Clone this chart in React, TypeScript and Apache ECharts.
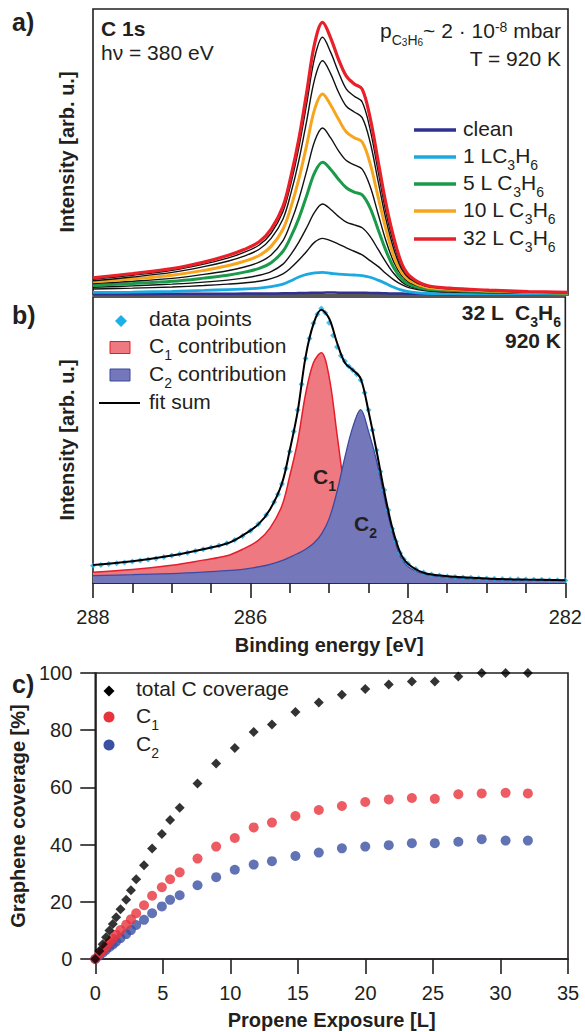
import React, { useEffect, useRef } from "react";
import * as echarts from "echarts";

const FONT = "Liberation Sans, Arial, Helvetica, sans-serif";
const INK = "#231f20";

// ---------------- Panel a: C 1s spectra ----------------
const energyGrid = [288, 287.5, 287, 286.6, 286.3, 286.1, 285.9, 285.75, 285.6, 285.5, 285.4, 285.3, 285.2, 285.1, 285.0, 284.9, 284.8, 284.7, 284.6, 284.5, 284.4, 284.3, 284.2, 284.1, 284.0, 283.8, 283.5, 283.0, 282.5, 282.0];

const specClean = [0.3, 0.3, 0.4, 0.4, 0.4, 0.5, 0.5, 0.5, 0.6, 0.6, 0.7, 0.7, 0.8, 0.8, 0.9, 0.8, 0.8, 0.8, 0.8, 0.7, 0.7, 0.6, 0.5, 0.5, 0.4, 0.4, 0.3, 0.3, 0.3, 0.3];
const spec1L = [0.9, 1.0, 1.3, 1.6, 1.9, 2.1, 2.4, 2.9, 3.8, 5.0, 6.3, 7.2, 7.7, 7.9, 7.6, 7.3, 7.1, 7.0, 6.8, 6.2, 5.2, 4.0, 2.7, 1.7, 1.1, 0.6, 0.5, 0.4, 0.4, 0.3];
const specStep3 = [2.1, 2.4, 2.8, 3.3, 3.8, 4.2, 4.8, 5.7, 7.4, 9.5, 12.2, 15.3, 18.5, 19.8, 19.0, 17.8, 16.5, 15.3, 14.0, 12.0, 10.0, 7.5, 5.3, 3.6, 2.5, 1.5, 1.0, 0.8, 0.6, 0.5];
const specStep4 = [2.7, 3.2, 3.8, 4.5, 5.2, 5.9, 6.9, 8.2, 10.8, 14.2, 18.5, 23.6, 29.0, 31.8, 30.0, 27.5, 25.5, 24.5, 23.5, 20.5, 16.0, 11.5, 7.5, 4.6, 3.0, 1.7, 1.3, 1.0, 0.8, 0.6];
const spec5L = [3.3, 4.0, 4.8, 5.9, 6.9, 7.9, 9.3, 11.3, 15.3, 20.4, 26.8, 34.8, 42.8, 46.4, 44.0, 40.5, 37.5, 36.0, 35.0, 30.5, 23.0, 15.5, 9.5, 5.6, 3.6, 2.1, 1.6, 1.2, 0.9, 0.6];
const specStep6 = [4.0, 4.8, 5.8, 7.2, 8.5, 9.7, 11.5, 14.0, 19.0, 25.4, 33.5, 43.5, 53.8, 58.4, 55.0, 50.5, 47.0, 45.5, 44.0, 38.0, 28.5, 19.0, 11.5, 6.8, 4.3, 2.5, 1.8, 1.3, 0.9, 0.7];
const spec10L = [4.6, 5.6, 6.9, 8.6, 10.2, 11.7, 13.8, 17.0, 23.0, 30.7, 40.5, 52.5, 65.0, 70.3, 66.5, 61.5, 57.0, 55.0, 53.5, 46.0, 34.5, 23.0, 13.5, 7.8, 5.0, 2.8, 2.0, 1.4, 1.0, 0.7];
const specStep8 = [5.0, 6.3, 7.9, 9.9, 11.8, 13.5, 16.0, 19.8, 26.6, 35.6, 47.0, 61.0, 75.5, 81.9, 77.5, 71.0, 66.0, 64.0, 62.0, 53.5, 40.0, 26.5, 16.0, 9.0, 5.7, 3.1, 2.2, 1.5, 1.0, 0.8];
const specStep9 = [5.5, 6.9, 8.6, 10.8, 12.9, 14.8, 17.5, 21.6, 29.2, 39.0, 51.5, 67.0, 83.0, 90.1, 85.0, 78.0, 72.0, 69.5, 67.5, 58.0, 43.5, 29.0, 17.8, 10.0, 6.2, 3.3, 2.3, 1.6, 1.1, 0.8];
const spec32L = [6.0, 7.5, 9.2, 11.5, 13.8, 15.8, 18.6, 23.0, 31.0, 41.5, 54.5, 71.0, 88.0, 95.3, 90.0, 82.5, 76.5, 73.8, 72.0, 62.0, 47.0, 32.0, 20.0, 11.0, 6.7, 3.5, 2.4, 1.7, 1.2, 0.9];

// ---------------- Panel b: peak fit at 32 L ----------------
const fitC1 = [3.8, 4.7, 6.2, 8.0, 9.5, 11.8, 14.9, 19.3, 27.0, 37.5, 49.5, 66.0, 77.0, 80.5, 72.0, 52.0, 32.0, 19.0, 10.0, 5.5, 3.0, 2.0, 1.4, 1.0, 0.8, 0.6, 0.4, 0.3, 0.2, 0.2];
const fitC2 = [2.6, 2.9, 3.3, 3.8, 4.3, 4.8, 5.6, 6.5, 7.8, 9.0, 10.3, 11.8, 13.8, 17.0, 22.5, 32.0, 44.0, 54.5, 60.6, 53.0, 43.0, 30.0, 18.0, 9.5, 5.8, 3.2, 2.0, 1.3, 1.0, 0.9];
const fitSum = [6.3, 7.6, 9.6, 11.8, 13.8, 16.6, 20.5, 25.8, 34.8, 46.5, 60.0, 79.0, 90.5, 95.5, 92.5, 84.0, 77.0, 74.5, 71.5, 60.0, 46.5, 32.0, 19.5, 10.8, 6.7, 3.6, 2.4, 1.6, 1.2, 1.0];

const pointEnergy = [288.0, 287.9, 287.8, 287.7, 287.6, 287.5, 287.4, 287.3, 287.2, 287.1, 287.0, 286.9, 286.8, 286.7, 286.6, 286.5, 286.4, 286.3, 286.2, 286.1, 286.0, 285.9, 285.8, 285.7, 285.65, 285.6, 285.55, 285.5, 285.45, 285.4, 285.35, 285.3, 285.25, 285.2, 285.15, 285.1, 285.05, 285.0, 284.95, 284.9, 284.85, 284.8, 284.75, 284.7, 284.65, 284.6, 284.55, 284.5, 284.45, 284.4, 284.35, 284.3, 284.25, 284.2, 284.15, 284.1, 284.05, 284.0, 283.9, 283.8, 283.7, 283.6, 283.5, 283.4, 283.3, 283.2, 283.1, 283.0, 282.9, 282.8, 282.7, 282.6, 282.5, 282.4, 282.3, 282.2, 282.1, 282.0];
const pointIntensity = [6.0, 6.3, 6.6, 6.9, 7.2, 7.5, 7.9, 8.2, 8.6, 9.1, 9.6, 10.1, 10.6, 11.2, 11.8, 12.4, 13.1, 13.9, 15.0, 16.4, 18.3, 20.6, 23.8, 28.3, 31.0, 34.6, 40.0, 46.0, 53.0, 60.5, 69.5, 78.5, 85.5, 90.8, 94.0, 96.0, 94.5, 91.0, 86.5, 82.5, 79.5, 77.5, 75.8, 74.5, 73.0, 71.0, 66.5, 60.5, 53.5, 46.5, 39.0, 32.5, 25.5, 19.0, 14.5, 10.5, 8.3, 6.8, 4.9, 3.7, 3.0, 2.6, 2.3, 2.1, 1.9, 1.8, 1.7, 1.6, 1.5, 1.4, 1.3, 1.3, 1.2, 1.1, 1.1, 1.0, 1.0, 0.9];

// ---------------- Panel c: coverage vs exposure ----------------
const exposure = [0, 0.3, 0.55, 0.8, 1.05, 1.3, 1.55, 1.87, 2.29, 2.64, 3.03, 3.61, 4.21, 4.93, 5.54, 6.25, 7.57, 8.95, 10.33, 11.73, 13.08, 14.82, 16.55, 18.26, 19.99, 21.73, 23.44, 25.14, 26.88, 28.61, 30.38, 32.03];
const totalCoverage = [0, 2.8, 5.2, 7.6, 10.0, 12.2, 14.6, 17.4, 20.7, 24.0, 27.9, 32.8, 38.6, 43.7, 48.6, 52.9, 61.4, 68.4, 73.8, 79.4, 82.0, 86.4, 89.7, 92.4, 94.4, 96.0, 97.0, 97.0, 98.8, 100, 100, 100];
const c1Coverage = [0, 1.6, 3.0, 4.4, 5.8, 7.1, 8.5, 10.1, 12.0, 13.9, 16.0, 18.8, 22.1, 25.1, 27.9, 30.3, 35.1, 39.3, 42.3, 46.0, 47.7, 50.0, 52.1, 53.5, 54.9, 55.8, 56.3, 56.0, 57.6, 57.9, 58.1, 57.9];
const c2Coverage = [0, 1.2, 2.2, 3.2, 4.2, 5.1, 6.1, 7.3, 8.7, 10.1, 11.9, 13.7, 16.0, 18.4, 20.7, 22.3, 25.8, 28.6, 31.2, 33.0, 34.2, 36.0, 37.2, 38.7, 39.3, 39.8, 40.5, 40.5, 41.0, 41.9, 41.4, 41.4];

const pairs = (xs: number[], ys: number[]) => xs.map((x, i) => [x, ys[i]]);

function richSet(size: number, weight: string) {
  const base = { fontFamily: FONT, fontWeight: weight, fill: INK, verticalAlign: "top" };
  return {
    n: { ...base, fontSize: size, lineHeight: 24 },
    s: { ...base, fontSize: 14, lineHeight: 10, padding: [13, 0, 0, 0] },
    ss: { ...base, fontSize: 10, lineHeight: 8, padding: [17, 0, 0, 0] },
    u: { ...base, fontSize: 14, lineHeight: 10, padding: [0, 0, 14, 0] },
  };
}

function label(text: string, x: number, y: number, size = 21, weight = "normal", align = "left") {
  return {
    type: "text",
    x,
    y,
    z: 100,
    style: {
      text,
      align,
      verticalAlign: "middle",
      fill: INK,
      fontFamily: FONT,
      fontSize: size,
      fontWeight: weight,
      rich: richSet(size, weight),
    },
  };
}

const hline = (x1: number, x2: number, y: number, color: string, w: number) => ({
  type: "line",
  z: 100,
  shape: { x1, y1: y, x2, y2: y },
  style: { stroke: color, lineWidth: w },
});

const diamond = (cx: number, cy: number, h: number, color: string) => ({
  type: "polygon",
  z: 100,
  shape: { points: [[cx, cy - h], [cx + h, cy], [cx, cy + h], [cx - h, cy]] },
  style: { fill: color },
});

const COLORS = {
  clean: "#2e3192",
  l1: "#1ba9e1",
  l5: "#1b9a4a",
  l10: "#f7a51c",
  l32: "#e8202a",
  c1Fill: "#ef7980",
  c1Line: "#e61e2a",
  c2Fill: "#7477ba",
  c2Line: "#3b4aa0",
  points: "#1cb0e8",
  red: "#e8333c",
  blue: "#3b50a3",
};

export default function App() {
  const ref = useRef<HTMLDivElement>(null);

  useEffect(() => {
    if (!ref.current) return;
    const chart = echarts.init(ref.current, null, { renderer: "svg" });

    const aLines = [
      { name: "clean", data: specClean, color: COLORS.clean, w: 2.5 },
      { name: "1 L C3H6", data: spec1L, color: COLORS.l1, w: 2.8 },
      { name: "step 3", data: specStep3, color: "#111", w: 1.4 },
      { name: "step 4", data: specStep4, color: "#111", w: 1.4 },
      { name: "5 L C3H6", data: spec5L, color: COLORS.l5, w: 3 },
      { name: "step 6", data: specStep6, color: "#111", w: 1.4 },
      { name: "10 L C3H6", data: spec10L, color: COLORS.l10, w: 3 },
      { name: "step 8", data: specStep8, color: "#111", w: 1.4 },
      { name: "step 9", data: specStep9, color: "#111", w: 1.4 },
      { name: "32 L C3H6", data: spec32L, color: COLORS.l32, w: 3.2 },
    ];

    const axisText = { fontSize: 20, color: INK, fontFamily: FONT };
    const nameText = { fontSize: 20, fontWeight: "bold", color: INK, fontFamily: FONT };
    const ink = { color: INK, width: 1.6 };
    const gridBox = { show: true, borderColor: INK, borderWidth: 1.6, backgroundColor: "transparent" };

    const option: any = {
      animation: false,
      backgroundColor: "#ffffff",
      textStyle: { fontFamily: FONT },
      grid: [
        { ...gridBox, left: 93, top: 9, width: 475, height: 286 },
        { ...gridBox, left: 93, top: 297, width: 475, height: 286 },
        { ...gridBox, left: 93, top: 673, width: 475, height: 286 },
      ],
      xAxis: [
        { gridIndex: 0, type: "value", min: 282, max: 288, inverse: true, show: false },
        {
          gridIndex: 1,
          type: "value",
          min: 282,
          max: 288,
          interval: 2,
          inverse: true,
          axisLine: { show: true, lineStyle: ink },
          axisTick: { show: true, length: 15, lineStyle: ink },
          minorTick: { show: true, splitNumber: 4, length: 10, lineStyle: ink },
          splitLine: { show: false },
          axisLabel: { ...axisText, margin: 24 },
          name: "Binding energy [eV]",
          nameLocation: "middle",
          nameGap: 52,
          nameTextStyle: nameText,
        },
        {
          gridIndex: 2,
          type: "value",
          min: 0,
          max: 35,
          interval: 5,
          axisLine: { show: true, lineStyle: ink },
          axisTick: { show: true, length: 15, lineStyle: ink },
          splitLine: { show: false },
          axisLabel: { ...axisText, margin: 24 },
          name: "Propene Exposure [L]",
          nameLocation: "middle",
          nameGap: 51,
          nameTextStyle: nameText,
        },
      ],
      yAxis: [
        {
          gridIndex: 0,
          type: "value",
          min: 0,
          max: 100,
          axisLine: { show: false },
          axisTick: { show: false },
          axisLabel: { show: false },
          splitLine: { show: false },
          name: "Intensity [arb. u.]",
          nameLocation: "middle",
          nameGap: 16,
          nameTextStyle: nameText,
        },
        {
          gridIndex: 1,
          type: "value",
          min: 0,
          max: 100,
          axisLine: { show: false },
          axisTick: { show: false },
          axisLabel: { show: false },
          splitLine: { show: false },
          name: "Intensity [arb. u.]",
          nameLocation: "middle",
          nameGap: 16,
          nameTextStyle: nameText,
        },
        {
          gridIndex: 2,
          type: "value",
          min: 0,
          max: 100,
          interval: 20,
          axisLine: { show: true, lineStyle: ink },
          axisTick: { show: true, length: 15, lineStyle: ink },
          splitLine: { show: false },
          axisLabel: { ...axisText, margin: 23 },
          name: "Graphene coverage [%]",
          nameLocation: "middle",
          nameGap: 63,
          nameTextStyle: nameText,
        },
      ],
      series: [
        ...aLines.map((s, i) => ({
          name: s.name,
          type: "line",
          xAxisIndex: 0,
          yAxisIndex: 0,
          z: 2 + i * 0.1,
          data: pairs(energyGrid, s.data),
          showSymbol: false,
          symbol: "none",
          smooth: 0.35,
          lineStyle: { color: s.color, width: s.w },
          itemStyle: { color: s.color },
        })),
        {
          name: "C1 contribution",
          type: "line",
          xAxisIndex: 1,
          yAxisIndex: 1,
          z: 2,
          data: pairs(energyGrid, fitC1),
          symbol: "none",
          smooth: 0.35,
          lineStyle: { color: COLORS.c1Line, width: 1.5 },
          areaStyle: { color: COLORS.c1Fill, opacity: 1 },
        },
        {
          name: "C2 contribution",
          type: "line",
          xAxisIndex: 1,
          yAxisIndex: 1,
          z: 3,
          data: pairs(energyGrid, fitC2),
          symbol: "none",
          smooth: 0.35,
          lineStyle: { color: COLORS.c2Line, width: 1.3 },
          areaStyle: { color: COLORS.c2Fill, opacity: 1 },
        },
        {
          name: "data points",
          type: "scatter",
          xAxisIndex: 1,
          yAxisIndex: 1,
          z: 4,
          data: pairs(pointEnergy, pointIntensity),
          symbol: "diamond",
          symbolSize: 6,
          itemStyle: { color: COLORS.points },
        },
        {
          name: "fit sum",
          type: "line",
          xAxisIndex: 1,
          yAxisIndex: 1,
          z: 5,
          data: pairs(energyGrid, fitSum),
          symbol: "none",
          smooth: 0.35,
          lineStyle: { color: "#000", width: 2 },
        },
        {
          name: "C2",
          type: "scatter",
          xAxisIndex: 2,
          yAxisIndex: 2,
          z: 3,
          data: pairs(exposure, c2Coverage),
          symbol: "circle",
          symbolSize: 10,
          itemStyle: { color: COLORS.blue },
        },
        {
          name: "C1",
          type: "scatter",
          xAxisIndex: 2,
          yAxisIndex: 2,
          z: 4,
          data: pairs(exposure, c1Coverage),
          symbol: "circle",
          symbolSize: 10,
          itemStyle: { color: COLORS.red },
        },
        {
          name: "total C coverage",
          type: "scatter",
          xAxisIndex: 2,
          yAxisIndex: 2,
          z: 5,
          data: pairs(exposure, totalCoverage),
          symbol: "diamond",
          symbolSize: 10,
          itemStyle: { color: "#000" },
        },
      ],
      graphic: [
        // panel letters
        label("{n|a)}", 12, 21, 25, "bold"),
        label("{n|b)}", 12, 314, 25, "bold"),
        label("{n|c)}", 12, 683, 25, "bold"),
        // panel a annotations
        label("{n|C 1s}", 101, 30, 21, "bold"),
        label("{n|hν = 380 eV}", 101, 54, 21),
        label("{n|p}{s|C}{ss|3}{s|H}{ss|6}{n|~ 2 · 10}{u|-8}{n| mbar}", 561, 32, 21, "normal", "right"),
        label("{n|T = 920 K}", 561, 60, 21, "normal", "right"),
        // panel a legend
        hline(414, 456, 130, COLORS.clean, 3.5),
        hline(414, 456, 157, COLORS.l1, 3.5),
        hline(414, 456, 184, COLORS.l5, 3.5),
        hline(414, 456, 211, COLORS.l10, 3.5),
        hline(414, 456, 239, COLORS.l32, 3.5),
        label("{n|clean}", 463, 130),
        label("{n|1 LC}{s|3}{n|H}{s|6}", 463, 157),
        label("{n|5 L C}{s|3}{n|H}{s|6}", 463, 184),
        label("{n|10 L C}{s|3}{n|H}{s|6}", 463, 211),
        label("{n|32 L C}{s|3}{n|H}{s|6}", 463, 239),
        // panel b annotations
        label("{n|32 L  C}{s|3}{n|H}{s|6}", 561, 314, 21, "bold", "right"),
        label("{n|920 K}", 561, 342, 21, "bold", "right"),
        label("{n|C}{s|1}", 313, 478, 21, "bold"),
        label("{n|C}{s|2}", 354, 525, 21, "bold"),
        // panel b legend
        diamond(121, 321, 6, COLORS.points),
        {
          type: "rect",
          z: 100,
          shape: { x: 110, y: 341.5, width: 20, height: 12 },
          style: { fill: COLORS.c1Fill, stroke: COLORS.c1Line, lineWidth: 1 },
        },
        {
          type: "rect",
          z: 100,
          shape: { x: 110, y: 369, width: 20, height: 12 },
          style: { fill: COLORS.c2Fill, stroke: COLORS.c2Line, lineWidth: 1 },
        },
        hline(99, 140, 403, "#000", 2),
        label("{n|data points}", 149, 320),
        label("{n|C}{s|1}{n| contribution}", 149, 347),
        label("{n|C}{s|2}{n| contribution}", 149, 375),
        label("{n|fit sum}", 149, 403),
        // panel c legend
        diamond(109, 691, 5.5, "#000"),
        { type: "circle", z: 100, shape: { cx: 109, cy: 717, r: 5.5 }, style: { fill: COLORS.red } },
        { type: "circle", z: 100, shape: { cx: 109, cy: 745, r: 5.5 }, style: { fill: COLORS.blue } },
        label("{n|total C coverage}", 136, 690),
        label("{n|C}{s|1}", 136, 717),
        label("{n|C}{s|2}", 136, 745),
      ],
    };

    chart.setOption(option);
    return () => chart.dispose();
  }, []);

  return (
    <div
      ref={ref}
      style={{ position: "absolute", left: 0, top: 0, width: 585, height: 1032, background: "#fff" }}
    />
  );
}
